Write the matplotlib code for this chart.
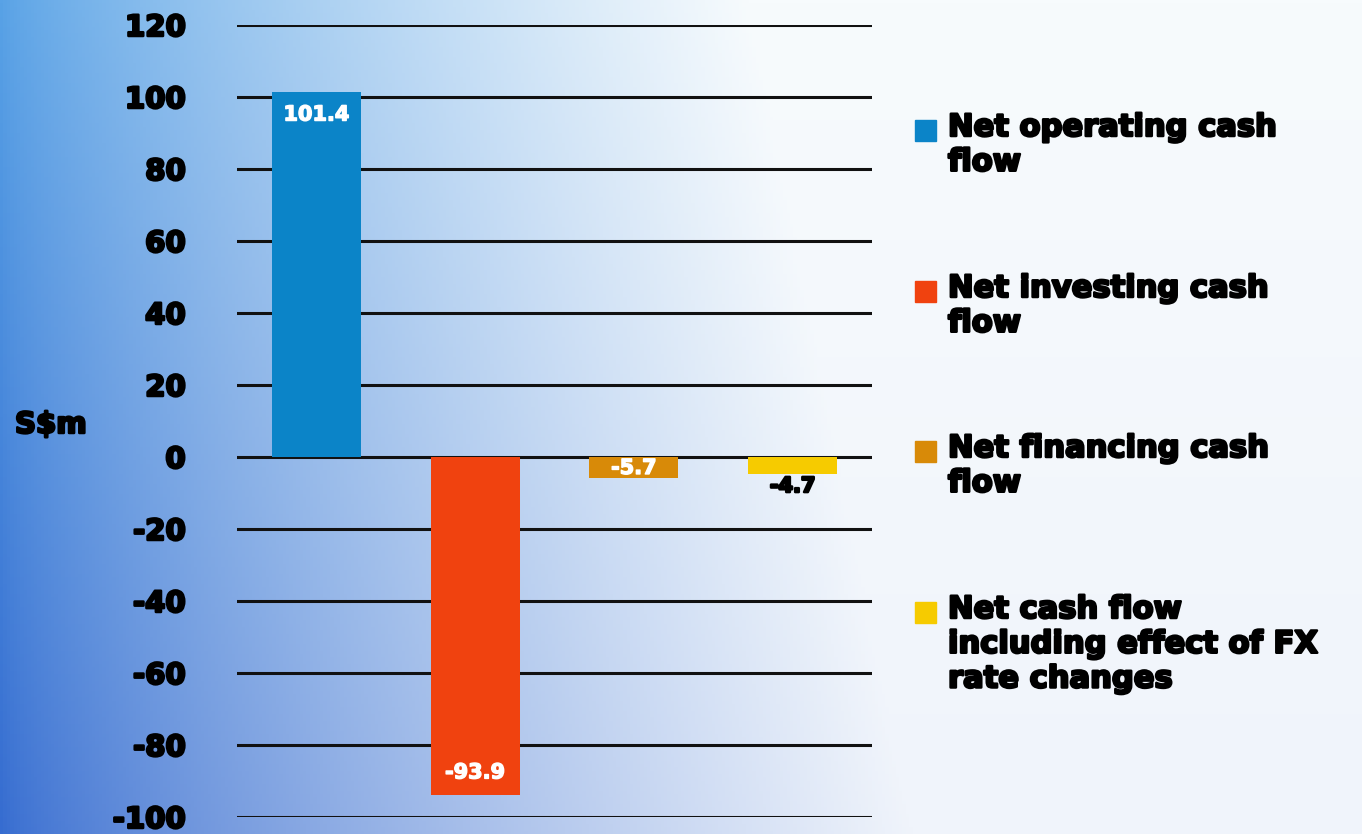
import numpy as np
import matplotlib
matplotlib.use("Agg")
import matplotlib.pyplot as plt
from matplotlib.patches import Rectangle
import matplotlib.patheffects as pe

categories = ["Net operating cash flow", "Net investing cash flow",
              "Net financing cash flow",
              "Net cash flow including effect of FX rate changes"]
legend_labels = ["Net operating cash\nflow", "Net investing cash\nflow",
                 "Net financing cash\nflow",
                 "Net cash flow\nincluding effect of FX\nrate changes"]
values = [101.4, -93.9, -5.7, -4.7]
value_labels = ["101.4", "-93.9", "-5.7", "-4.7"]
colors = ["#0b84c8", "#f0420f", "#d88a08", "#f6cb00"]
yticks = [-100, -80, -60, -40, -20, 0, 20, 40, 60, 80, 100, 120]

plt.rcParams['font.family'] = ['DejaVu Sans']

W, H = 1362, 834
fig = plt.figure(figsize=(W / 100, H / 100), dpi=100)

heavy_k = [pe.withStroke(linewidth=1.8, foreground='black')]
heavy_w = [pe.withStroke(linewidth=1.0, foreground='white')]

# background gradient
bg = fig.add_axes([0, 0, 1, 1])
bg.set_axis_off()
nx, ny = 400, 250
u = np.linspace(0, 1, nx)[None, :]
v = np.linspace(0, 1, ny)[:, None]  # 0 top, 1 bottom
left_top = np.array([0x58, 0xa2, 0xe6]) / 255
left_bot = np.array([0x36, 0x6c, 0xd0]) / 255
right_top = np.array([0xf7, 0xfb, 0xfd]) / 255
right_bot = np.array([0xf0, 0xf4, 0xfb]) / 255
leftc = left_top[None, None, :] * (1 - v[..., None]) + left_bot[None, None, :] * v[..., None]
rightc = right_top[None, None, :] * (1 - v[..., None]) + right_bot[None, None, :] * v[..., None]
t = np.clip(u / (0.55 + 0.12 * v), 0, 1) ** 0.75
t = t[..., None]
img = leftc * (1 - t) + rightc * t
bg.imshow(img, aspect='auto', extent=[0, 1, 0, 1], origin='upper')
bg.set_xlim(0, 1)
bg.set_ylim(0, 1)

ax = fig.add_axes([237 / W, (H - 817) / H, 635 / W, 792 / H])
ax.patch.set_alpha(0)
x = np.arange(len(values))
bars = ax.bar(x, values, width=0.56, color=colors, zorder=3)
ax.set_xlim(-0.5, 3.5)
ax.set_ylim(-100, 120)
ax.set_yticks(yticks)
ax.set_yticklabels([str(t) for t in yticks], fontsize=21, fontweight='bold')
for lbl in ax.get_yticklabels():
    lbl.set_path_effects(heavy_k)
ax.set_xticks([])
for s in ax.spines.values():
    s.set_visible(False)
ax.tick_params(axis='y', length=0, pad=37)
ax.yaxis.grid(True, color='#111111', linewidth=2.2, zorder=1)
ax.set_axisbelow(True)

# value labels
lab_kw = dict(fontsize=15, fontweight='bold', zorder=4)
ax.text(x[0], values[0] - 3.5, value_labels[0], ha='center', va='top',
        color='white', path_effects=heavy_w, **lab_kw)
ax.text(x[1], values[1] + 3.5, value_labels[1], ha='center', va='bottom',
        color='white', path_effects=heavy_w, **lab_kw)
ax.text(x[2], values[2] / 2 - 0.2, value_labels[2], ha='center', va='center',
        color='white', path_effects=heavy_w, **lab_kw)
ax.text(x[3], values[3] - 0.6, value_labels[3], ha='center', va='top',
        color='black', path_effects=heavy_k, **lab_kw)

fig.text(15 / W, 1 - 425 / H, "S$m", ha='left', va='center',
         fontsize=21, fontweight='bold', path_effects=heavy_k)

# legend
legend_y = [131, 292, 452, 613]
for lab, col, ly in zip(legend_labels, colors, legend_y):
    fig.patches.append(Rectangle((915 / W, 1 - (ly + 10) / H), 21 / W, 21 / H,
                                 transform=fig.transFigure, color=col))
    fig.text(948 / W, 1 - (ly - 18) / H, lab, ha='left', va='top',
             fontsize=22, fontweight='bold', linespacing=1.25,
             path_effects=heavy_k)

fig.savefig("out.png", dpi=100)
